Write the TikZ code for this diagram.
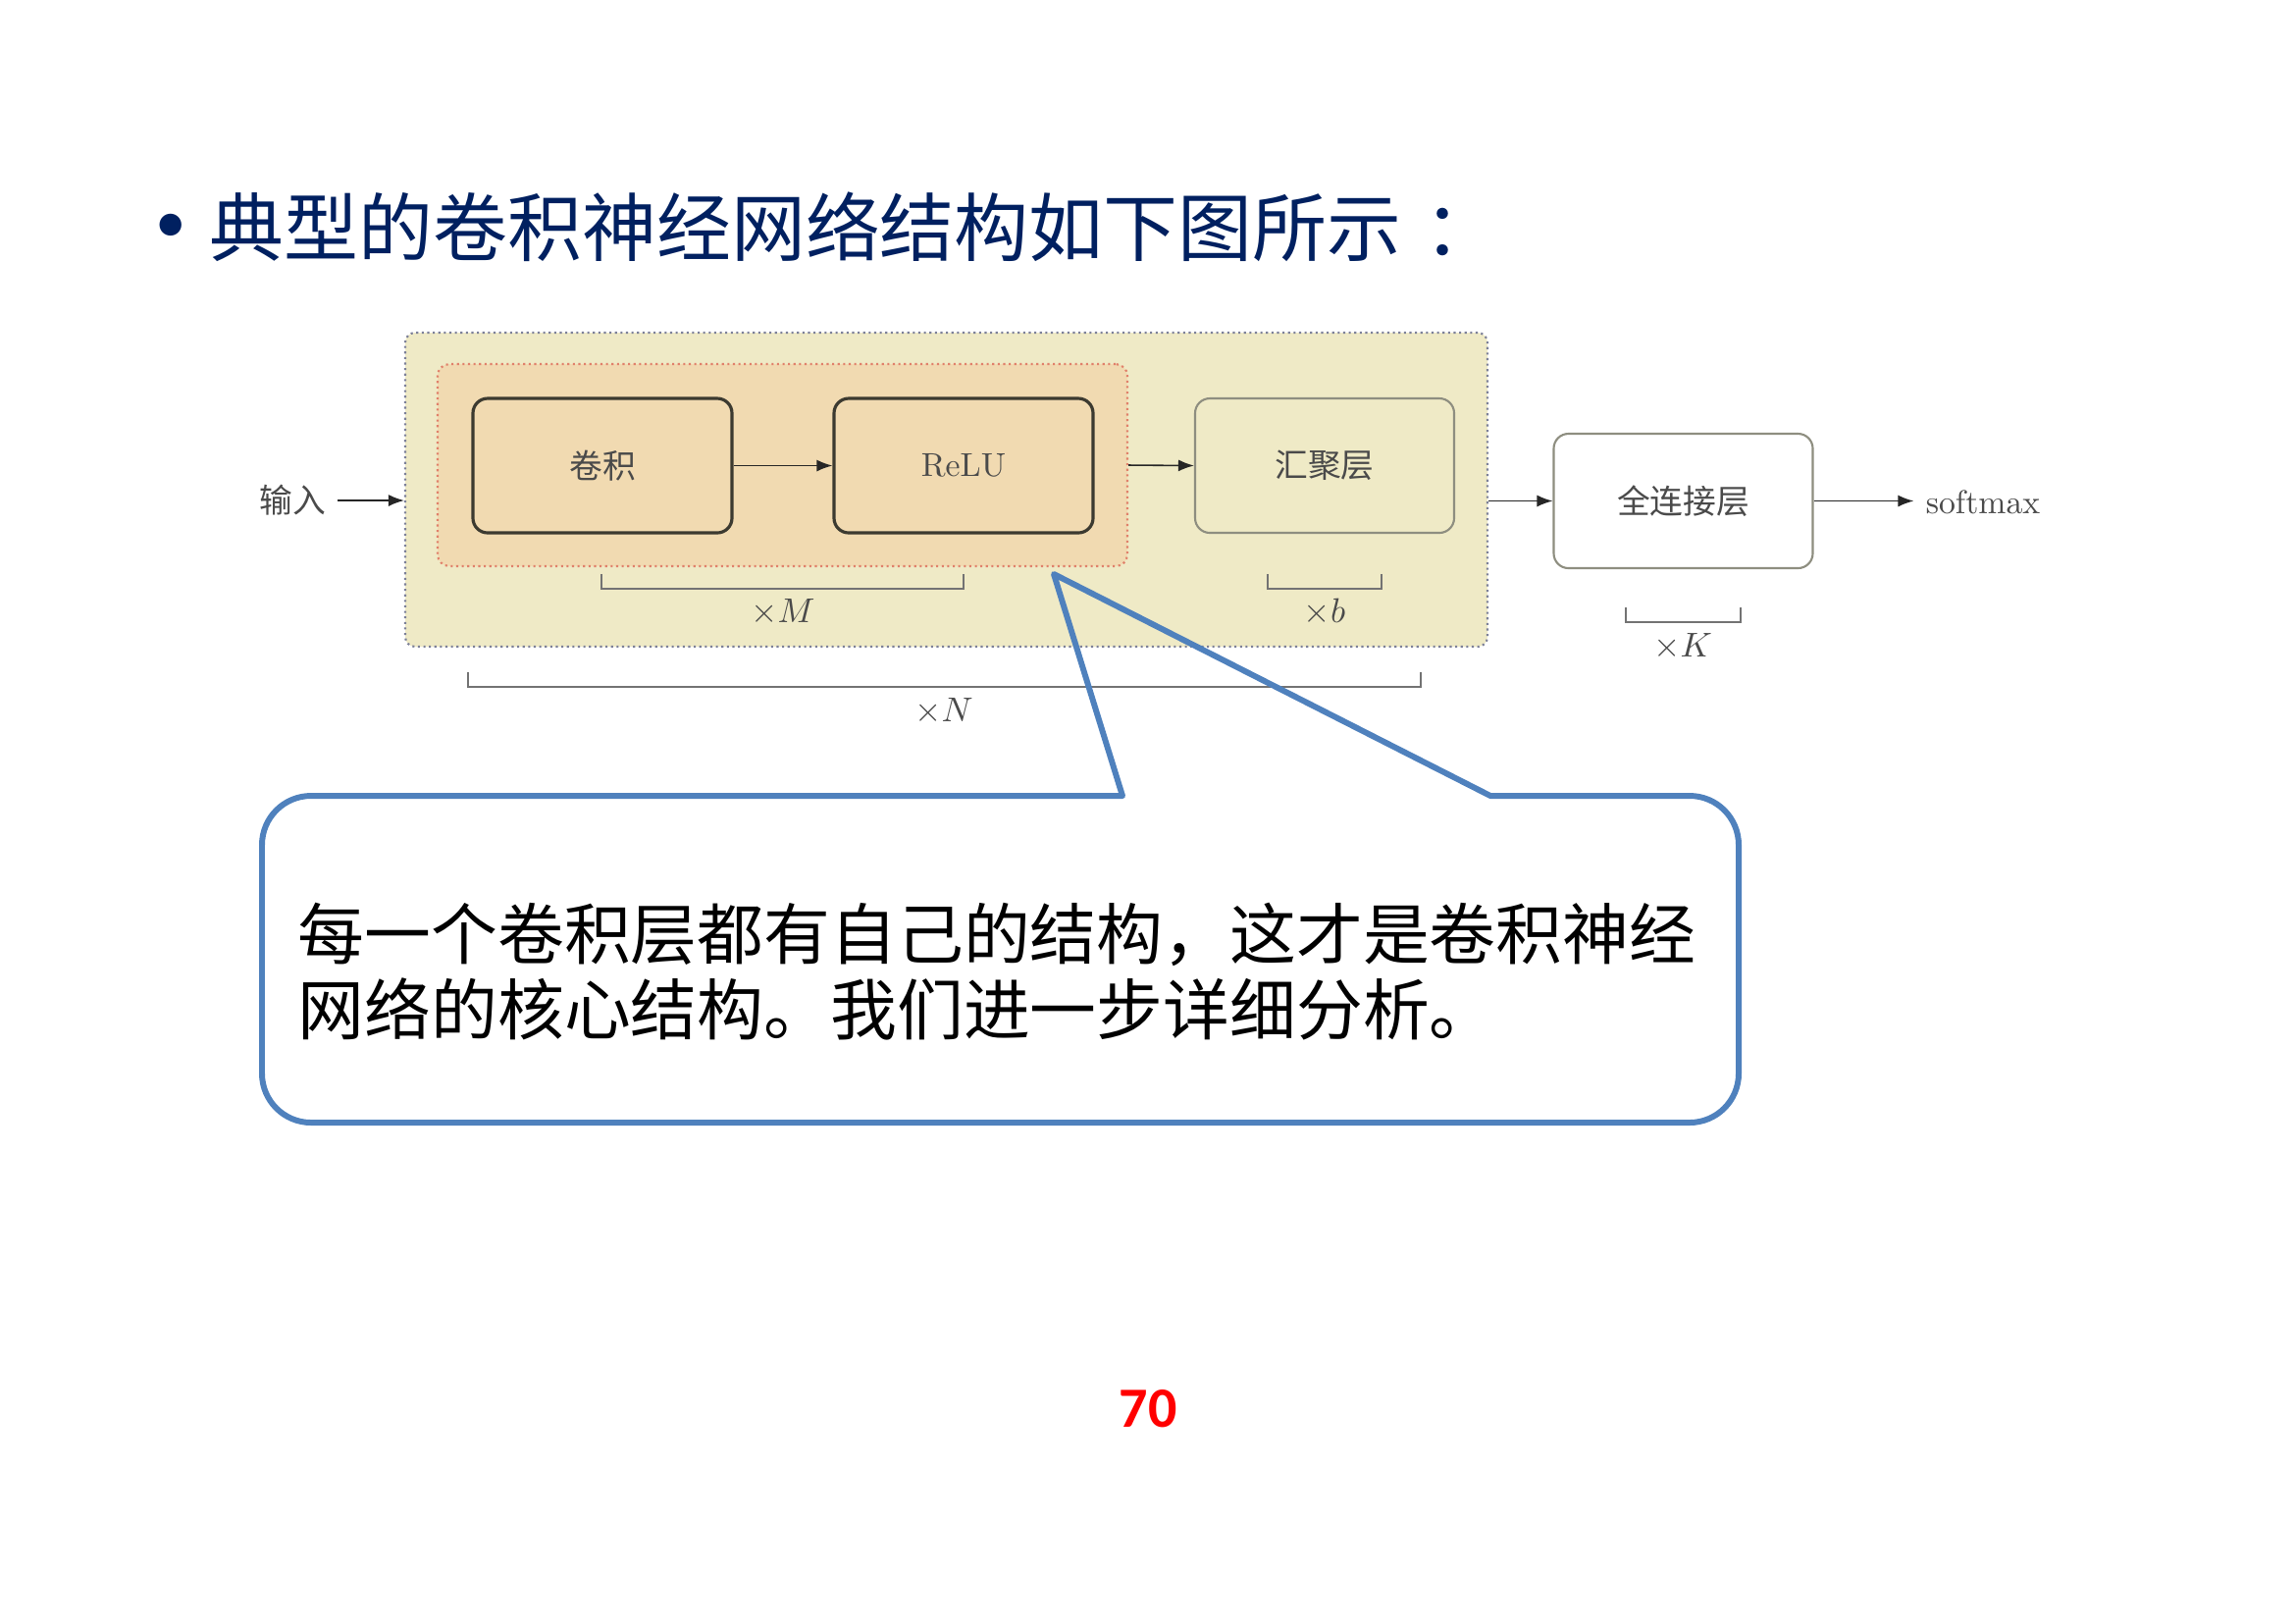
\documentclass[tikz,border=0pt]{standalone}
\usepackage{fontspec}
\newfontfamily\cjk{Noto Sans CJK SC}
\newfontfamily\numfont{Carlito}
\usetikzlibrary{arrows.meta}
\definecolor{titleblue}{HTML}{002060}
\definecolor{outerfill}{HTML}{EFEAC6}
\definecolor{innerfill}{HTML}{F1DAB1}
\definecolor{outerline}{HTML}{7C8098}
\definecolor{innerline}{HTML}{E0806A}
\definecolor{darkline}{HTML}{3C3A30}
\definecolor{greyline}{HTML}{8E8E80}
\definecolor{labelgray}{HTML}{4A4A4A}
\definecolor{callblue}{HTML}{4F81BD}
\begin{document}
\begin{tikzpicture}[x=.1mm,y=-.1mm,
                    line/.style={line width=.45pt,draw=black!85,-{Latex[length=1.6mm,width=1.2mm]}},
                    layer/.style={rounded corners=1.5mm,minimum width=26.4mm,minimum height=13.7mm,inner sep=0pt},
                    brace/.style={line width=.55pt,draw=black!55},
                    mult/.style={text=labelgray},
                    every node/.style={font=\fontsize{9.6}{11}\selectfont}]
 \useasboundingbox (0,0) rectangle (2339,1654);
 % title
 \node[inner sep=0pt,text=titleblue,font=\cjk\fontsize{30}{32}\selectfont] (dot) at (174,244) {•};
 \node[anchor=west,inner sep=0pt,text=titleblue,font=\cjk\fontsize{21.6}{24}\selectfont] (title) at (213,231) {典型的卷积神经网络结构如下图所示\kern.3em：};
 % frames
 \node[draw=outerline,densely dotted,line width=.6pt,fill=outerfill,rounded corners=1mm,
       minimum width=110.3mm,minimum height=32mm,inner sep=0pt] (outer) at (964.5,499) {};
 \node[draw=innerline,densely dotted,line width=.6pt,fill=innerfill,rounded corners=1.2mm,
       minimum width=70.3mm,minimum height=20.6mm,inner sep=0pt] (inner) at (797.5,474) {};
 % layers
 \node[layer,draw=darkline,line width=.9pt,fill=innerfill,text=labelgray,font=\cjk\fontsize{9.6}{11}\selectfont] (conv) at (614,474.5) {卷积};
 \node[layer,draw=darkline,line width=.9pt,fill=innerfill,text=labelgray] (relu) at (982,474.5) {ReLU};
 \node[layer,draw=greyline,line width=.6pt,fill=outerfill,text=labelgray,font=\cjk\fontsize{9.6}{11}\selectfont] (pool) at (1350,474.5) {汇聚层};
 \node[layer,draw=greyline,line width=.6pt,fill=white,text=labelgray,font=\cjk\fontsize{9.6}{11}\selectfont] (fc) at (1715.5,510.5) {全连接层};
 \node[text=labelgray,font=\cjk\fontsize{9.6}{11}\selectfont] (input) at (298,510) {输入};
 \node[text=labelgray] (softmax) at (2021,512) {softmax};
 % arrows
 \draw[line] (input.east) -- (input.east -| outer.west);
 \draw[line] (conv) -- (relu);
 \draw[line] (inner.east) -- (pool.west);
 \draw[line] (fc.west -| outer.east) -- (fc.west);
 \draw[line] (fc.east) -- (fc.east -| softmax.west);
 % repeat marks
 \draw[brace] (613,585) -- (613,600) -- (982,600) -- (982,585);
 \draw[brace] (1292,585) -- (1292,600) -- (1408,600) -- (1408,585);
 \draw[brace] (1657,619) -- (1657,634) -- (1774,634) -- (1774,619);
 \draw[brace] (477,685) -- (477,700) -- (1448,700) -- (1448,685);
 \node[mult] (xm) at (798,624) {$\times M$};
 \node[mult] (xb) at (1350,624) {$\times b$};
 \node[mult] (xk) at (1715,659) {$\times K$};
 \node[mult] (xn) at (962,725) {$\times N$};
 % callout
 \coordinate (tip) at (1074,585);
 \draw[callblue,line width=1.7pt,line join=round,rounded corners=5mm]
   (700,811) -- (267,811) -- (267,1144) -- (1772,1144) -- (1772,811)
   [sharp corners] -- (1519,811) -- (tip) -- (1144,811) -- cycle;
 \node[anchor=west,align=left,inner sep=0pt,font=\cjk\fontsize{19.3}{21.9}\selectfont] (note) at (303,990)
   {每一个卷积层都有自己的结构，这才是卷积神经\\网络的核心结构。我们进一步详细分析。};
 % page number
 \node[text=red,font=\numfont\bfseries\fontsize{16.5}{18}\selectfont] (page) at (1170,1436) {70};
\end{tikzpicture}
\end{document}
